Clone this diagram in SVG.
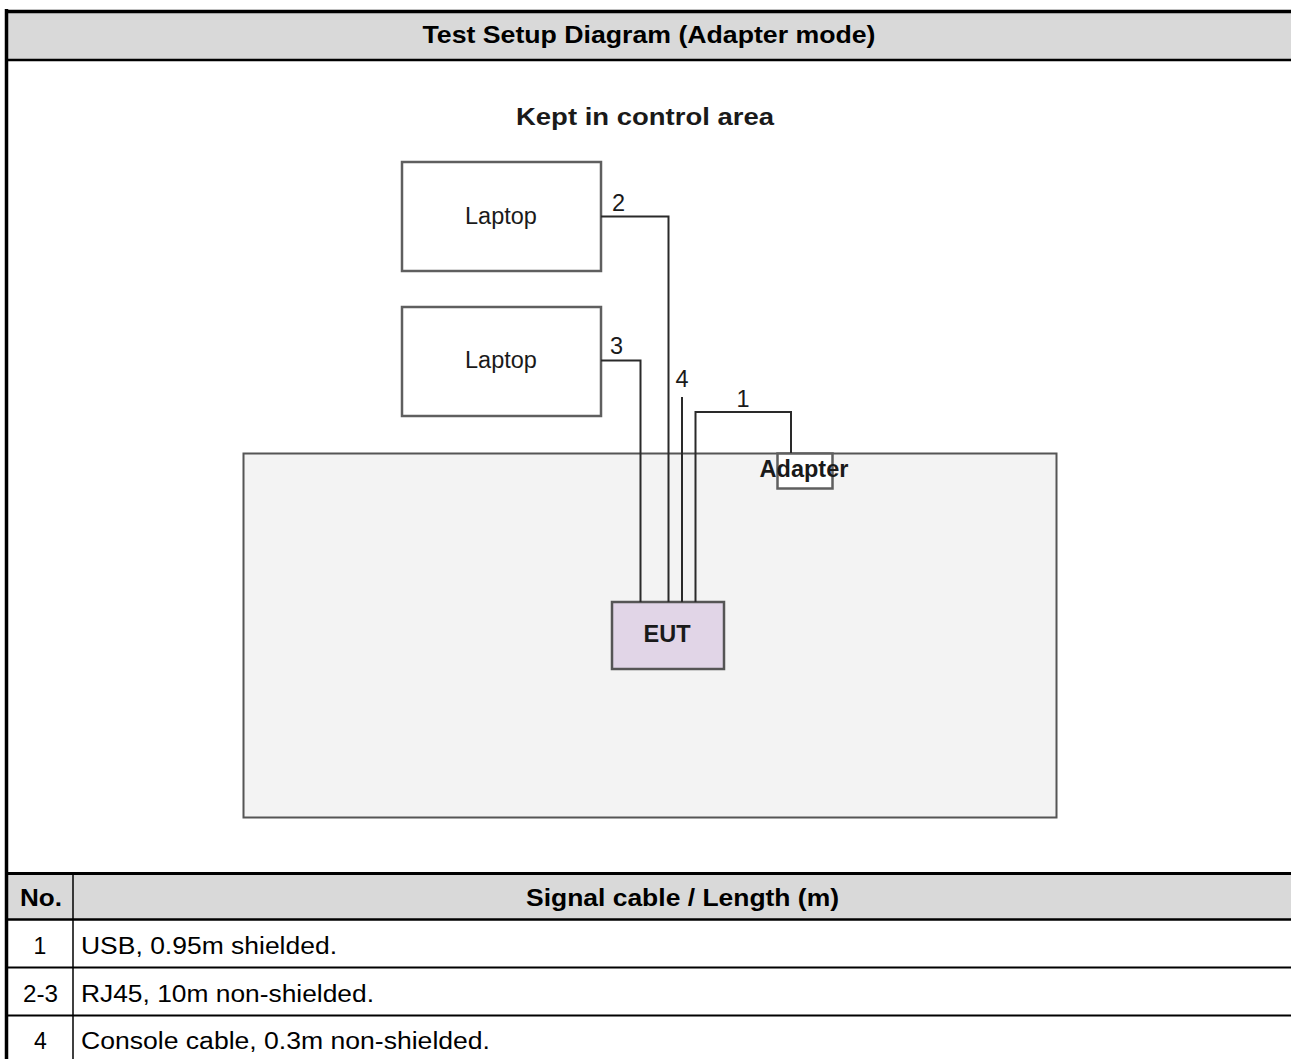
<svg xmlns="http://www.w3.org/2000/svg" width="1291" height="1059" viewBox="0 0 1291 1059">
<style>
.t{font-family:"Liberation Sans",Arial,sans-serif;fill:#000}
.b{font-weight:bold}
.d{font-family:"Liberation Sans",Arial,sans-serif;fill:#1a1a1a;font-size:23.5px}
.box{fill:#fff;stroke:#5f5f5f;stroke-width:2.5}
.w{fill:none;stroke:#2a2a2a;stroke-width:2}
.grid{stroke:#000}
</style>
<rect x="0" y="0" width="1291" height="1059" fill="#fff"/>
<g id="frame">
<rect x="8" y="13" width="1283" height="46" fill="#d9d9d9"/>
<rect x="8" y="875" width="1283" height="44" fill="#d9d9d9"/>
<line class="grid" x1="5" y1="11.5" x2="1291" y2="11.5" stroke-width="3.5"/>
<line class="grid" x1="6.5" y1="9" x2="6.5" y2="1059" stroke-width="3.5"/>
<line class="grid" x1="8" y1="60" x2="1291" y2="60" stroke-width="2.5"/>
<line class="grid" x1="8" y1="873.5" x2="1291" y2="873.5" stroke-width="3"/>
<line class="grid" x1="8" y1="919.5" x2="1291" y2="919.5" stroke-width="2.5"/>
<line class="grid" x1="8" y1="967.5" x2="1291" y2="967.5" stroke-width="2"/>
<line class="grid" x1="8" y1="1015.5" x2="1291" y2="1015.5" stroke-width="2"/>
<line class="grid" x1="73" y1="875" x2="73" y2="1059" stroke-width="1.5"/>
</g>
<text class="t b" x="649" y="43" font-size="24" text-anchor="middle" textLength="453" lengthAdjust="spacingAndGlyphs">Test Setup Diagram (Adapter mode)</text>
<g id="area">
<rect x="243.5" y="453.5" width="813" height="364" fill="#f3f3f3" stroke="#555" stroke-width="2"/>
</g>
<text class="d b" x="645" y="125" text-anchor="middle" textLength="258" lengthAdjust="spacingAndGlyphs">Kept in control area</text>
<g id="laptop1">
<rect class="box" x="402" y="162" width="199" height="109"/>
<text class="d" x="501" y="224" text-anchor="middle">Laptop</text>
</g>
<g id="laptop2">
<rect class="box" x="402" y="307" width="199" height="109"/>
<text class="d" x="501" y="368" text-anchor="middle">Laptop</text>
</g>
<g id="adapter">
<rect x="777.5" y="453.5" width="55" height="35" fill="#fff" stroke="#5f5f5f" stroke-width="2.5"/>
<text class="d b" x="804" y="477" text-anchor="middle">Adapter</text>
</g>
<g id="eut">
<rect x="612" y="602" width="112" height="67" fill="#e1d5e7" stroke="#555" stroke-width="2.5"/>
<text class="d b" x="667" y="642" text-anchor="middle">EUT</text>
</g>
<g id="connectors">
<polyline class="w" points="601,216.5 668.5,216.5 668.5,602"/>
<polyline class="w" points="601,360.5 640.5,360.5 640.5,602"/>
<line class="w" x1="682" y1="397" x2="682" y2="602"/>
<polyline class="w" points="695.5,602 695.5,412 791,412 791,453"/>
<text class="d" x="618.5" y="211" text-anchor="middle">2</text>
<text class="d" x="616.5" y="354" text-anchor="middle">3</text>
<text class="d" x="682" y="387" text-anchor="middle">4</text>
<text class="d" x="743" y="407" text-anchor="middle">1</text>
</g>
<g id="table">
<text class="t b" x="41" y="906" font-size="24" text-anchor="middle" textLength="42" lengthAdjust="spacingAndGlyphs">No.</text>
<text class="t b" x="682.5" y="906" font-size="24" text-anchor="middle" textLength="313" lengthAdjust="spacingAndGlyphs">Signal cable / Length (m)</text>
<text class="t" x="40" y="954" font-size="23" text-anchor="middle">1</text>
<text class="t" x="81" y="954" font-size="23" textLength="256" lengthAdjust="spacingAndGlyphs">USB, 0.95m shielded.</text>
<text class="t" x="40.5" y="1002" font-size="23" text-anchor="middle" textLength="35" lengthAdjust="spacingAndGlyphs">2-3</text>
<text class="t" x="81" y="1002" font-size="23" textLength="293" lengthAdjust="spacingAndGlyphs">RJ45, 10m non-shielded.</text>
<text class="t" x="40.5" y="1049" font-size="23" text-anchor="middle">4</text>
<text class="t" x="81" y="1049" font-size="23" textLength="409" lengthAdjust="spacingAndGlyphs">Console cable, 0.3m non-shielded.</text>
</g>
</svg>
